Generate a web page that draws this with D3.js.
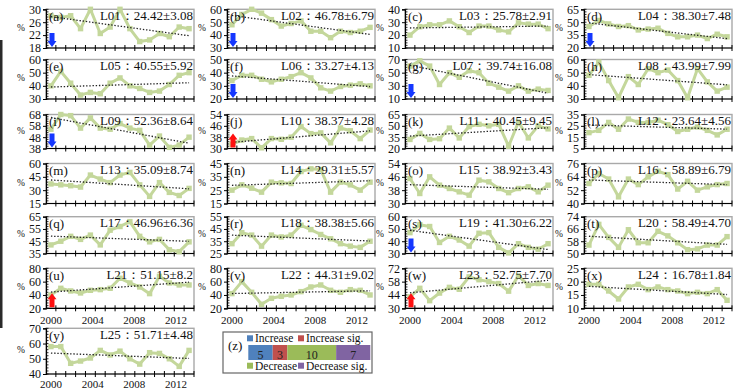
<!DOCTYPE html>
<html><head><meta charset="utf-8">
<script src="https://cdn.jsdelivr.net/npm/d3@7"></script>
<style>
html,body{margin:0;padding:0;background:#fff;}
svg{display:block;font-family:"Liberation Serif","Times New Roman",serif;}
</style></head><body>
<svg id="chart" width="734" height="389" font-family="'Liberation Serif','Times New Roman',serif"></svg>
<script>
// Years on the category axis
const years = [2000,2001,2002,2003,2004,2005,2006,2007,2008,2009,2010,2011,2012,2013,2014];
const yearLabels = [2000,2004,2008,2012];

// Annual percentage series for each site
const L01 = [28, 27.5, 28, 24, 30, 22.5, 24.5, 30, 24, 20, 20.5, 22.5, 21.5, 24.5, 24];
const L02 = [48, 56, 60, 57, 52, 47, 49, 51, 43, 43, 38, 43, 42, 43, 46];
const L03 = [20, 26.5, 28, 28, 31, 26.5, 22, 27, 27, 24, 22.5, 29.5, 28.5, 28.5, 25];
const L04 = [45, 52, 48, 45, 46, 41, 42, 43, 37, 33, 33, 35, 31, 36, 33];
const L05 = [40, 51, 42, 33, 35, 34, 42, 46, 40, 38, 35, 36, 41, 48, 50];
const L06 = [34, 38, 38, 35, 33, 35, 37, 40, 36, 28.5, 26, 29.5, 30.5, 31.5, 30];
const L07 = [60, 68, 60, 32, 50, 43, 53, 50, 34, 28, 22, 30, 22, 25, 23];
const L08 = [48, 58, 44, 31, 47, 41, 53, 50, 52, 44, 31, 53, 43, 36, 39];
const L09 = [55, 68, 67, 56, 65, 56, 55, 60, 56, 54, 41, 49, 39, 41, 48];
const L10 = [33, 36, 37, 30.5, 37, 36.5, 38, 45.5, 40.5, 41, 34, 44.5, 42.5, 37, 43];
const L11 = [32, 40, 32, 33, 47, 34, 49, 52, 50, 52, 23, 55, 34, 50, 46];
const L12 = [19, 21, 28, 22, 31, 28, 28, 30, 26, 20, 22, 24, 21, 17, 22];
const L13 = [37, 36, 35, 33.5, 47, 42.5, 38.5, 47, 50, 36, 23, 38.5, 27.5, 24, 32];
const L14 = [25, 29, 26.5, 23.5, 31, 30.5, 30, 39, 41, 40.5, 23.5, 31, 29, 25, 31];
const L15 = [45, 36, 46, 41, 39, 37, 35, 44, 43, 39, 36.5, 39, 40, 37, 41];
const L16 = [58, 67, 62, 46, 62, 57, 64, 69, 66, 53, 60, 52, 55, 57, 58];
const L17 = [42, 45, 49, 46.5, 50, 42, 54, 57, 61, 49, 44.5, 46.5, 38, 36.5, 44.5];
const L18 = [33, 42, 40, 31, 40, 38.5, 40, 48, 44.5, 40.5, 37, 33, 31, 30, 35];
const L19 = [47, 53.5, 52, 39, 44, 41, 36, 46.5, 47, 35, 30.5, 38, 35, 33.5, 38];
const L20 = [55.5, 69, 60.5, 54, 65.5, 57, 57, 64.5, 61.5, 57, 52.5, 53, 55.5, 55.5, 61];
const L21 = [40, 50, 46, 43, 47, 48, 50, 65, 58, 52, 42, 68, 58, 55, 55];
const L22 = [42, 60, 44, 26, 35, 38, 40, 45, 52, 55, 47, 44, 48, 47, 40];
const L23 = [42, 51, 38, 46, 52, 50, 63, 60, 58, 56, 48, 64, 54, 56, 54];
const L24 = [19, 19, 16.5, 13.5, 18, 19, 17, 18, 17, 16.5, 15.5, 16, 15.5, 17, 13];
const L25 = [58, 58, 47, 48.5, 50.5, 55.5, 52.5, 55, 50, 46.5, 54, 53.5, 50, 45, 55.5];

const series = [L01,L02,L03,L04,L05,L06,L07,L08,L09,L10,L11,L12,L13,L14,L15,L16,L17,L18,L19,L20,L21,L22,L23,L24,L25];
const siteNames = ["L01","L02","L03","L04","L05","L06","L07","L08","L09","L10","L11","L12","L13","L14","L15","L16","L17","L18","L19","L20","L21","L22","L23","L24","L25"];
const panelLetters = ["a","b","c","d","e","f","g","h","i","j","k","l","m","n","o","p","q","r","s","t","u","v","w","x","y"];
const siteStats = ["24.42±3.08","46.78±6.79","25.78±2.91","38.30±7.48","40.55±5.92","33.27±4.13","39.74±16.08","43.99±7.99",
  "52.36±8.64","38.37±4.28","40.45±9.45","23.64±4.56","35.09±8.74","29.31±5.57","38.92±3.43","58.89±6.79",
  "46.96±6.36","38.38±5.66","41.30±6.22","58.49±4.70","51.15±8.2","44.31±9.02","52.75±7.70","16.78±1.84","51.71±4.48"];
const yTicks = [
  [18,22,26,30],[30,40,50,60],[10,20,30,40],[20,35,50,65],
  [30,40,50,60],[20,30,40,50],[10,30,50,70],[30,40,50,60],
  [38,48,58,68],[30,38,46,54],[20,35,50,65],[5,15,25,35],
  [15,30,45,60],[15,25,35,45],[30,38,46,54],[40,52,64,76],
  [35,45,55,65],[25,35,45,55],[30,40,50,60],[50,58,66,74],
  [20,40,60,80],[20,40,60,80],[30,44,58,72],[10,15,20,25],
  [40,50,60,70]];
// Significant trend marker per site: "up", "down" or none
const sigTrend = ["down","down","","down","","down","down","","down","up","","","","","","","","","down","","up","","up","",""];

// Summary of trend classes
const legendLabels = ["Increase","Increase sig.","Decrease","Decrease sig."];
const legendCounts = [5,3,10,7];
const legendColors = ["#4f81bd","#c0504d","#9bbb59","#8064a2"];

const serif = "'Liberation Serif','Times New Roman',serif";
const svg = d3.select("#chart");
const colLeft = [46,227,405,584], plotW = 148;
const rowTop = [9.3,59.5,114.5,163.5,216.7,268.3,328.3];
const rowBottom = [48,99,148.5,203.5,253.5,308.3,374];
const yearLabelOffset = [0,0,0,0,0,15.5,13.5];
const lineColor = "#c4d79b";

// dark scanned edge on the left
svg.append("rect").attr("x",0).attr("y",40).attr("width",2.5).attr("height",288).attr("fill","#2a2a2a");

series.forEach((values,i)=>{
  const col = i%4, row = Math.floor(i/4);
  const left = colLeft[col], right = left+plotW, top = rowTop[row], bottom = rowBottom[row];
  const ticks = yTicks[i];
  const x = d3.scaleBand().domain(years).range([left,right]);
  const cx = d => x(d)+x.bandwidth()/2;
  const y = d3.scaleLinear().domain([ticks[0],ticks[ticks.length-1]]).range([bottom,top]);
  const g = svg.append("g");

  g.append("rect").attr("x",left).attr("y",top).attr("width",plotW).attr("height",bottom-top)
    .attr("fill","none").attr("stroke","#a9a9a9").attr("stroke-width",1.4);

  // minor ticks along the value axis
  const minorStep = (ticks[1]-ticks[0])/5;
  const minor = d3.range(ticks[0], ticks[ticks.length-1]+minorStep/2, minorStep);
  g.selectAll("line.minor").data(minor).join("line").attr("class","minor")
    .attr("x1",left).attr("x2",left+2.5).attr("y1",d=>y(d)).attr("y2",d=>y(d))
    .attr("stroke","#000").attr("stroke-width",0.8);

  const ya = g.append("g").attr("transform",`translate(${left},0)`)
    .call(d3.axisLeft(y).tickValues(ticks).tickSize(3).tickPadding(2).tickFormat(d3.format("d")));
  ya.attr("font-family",serif).attr("font-size",12);
  ya.select(".domain").attr("stroke","#000").attr("stroke-width",1.2);
  ya.selectAll(".tick line").attr("stroke","#000");
  ya.selectAll("text").attr("fill","#111");

  // category axis with crossing ticks at category boundaries
  g.append("line").attr("x1",left).attr("x2",right).attr("y1",bottom).attr("y2",bottom)
    .attr("stroke","#000").attr("stroke-width",1.2);
  const bounds = years.slice(1).map(d=>x(d)).concat([right]);
  g.selectAll("line.xt").data(bounds).join("line").attr("class","xt")
    .attr("x1",d=>d).attr("x2",d=>d).attr("y1",bottom-3).attr("y2",bottom+3)
    .attr("stroke","#000").attr("stroke-width",1);

  if (yearLabelOffset[row]) {
    const yearScale = d3.scaleLinear().domain([2000,2012]).range([left+5,left+130]);
    g.selectAll("text.yr").data(yearLabels).join("text").attr("class","yr")
      .attr("x",d=>yearScale(d)).attr("y",bottom+yearLabelOffset[row]).attr("text-anchor","middle")
      .attr("font-size",11).attr("fill","#111").text(d=>d);
  }

  g.append("text").attr("x",left-25).attr("y",(top+bottom)/2+2).attr("text-anchor","middle")
    .attr("font-size",9.5).attr("fill","#111").text("%");

  // series line and square markers
  g.append("path").datum(values)
    .attr("d",d3.line().x((d,j)=>cx(years[j])).y(d=>y(d)))
    .attr("fill","none").attr("stroke",lineColor).attr("stroke-width",3).attr("stroke-linejoin","round");
  g.selectAll("rect.pt").data(values).join("rect").attr("class","pt")
    .attr("x",(d,j)=>cx(years[j])-2.7).attr("y",d=>y(d)-2.7).attr("width",5.4).attr("height",5.4)
    .attr("fill",lineColor);

  // least-squares linear trend
  const n = values.length;
  const jm = (n-1)/2, vm = d3.mean(values);
  let sxy = 0, sxx = 0;
  values.forEach((v,j)=>{ sxy += (j-jm)*(v-vm); sxx += (j-jm)*(j-jm); });
  const slope = sxy/sxx, icpt = vm - slope*jm;
  g.append("line").attr("x1",cx(years[0])).attr("x2",cx(years[n-1]))
    .attr("y1",y(icpt)).attr("y2",y(icpt+slope*(n-1)))
    .attr("stroke","#222").attr("stroke-width",1.3).attr("stroke-dasharray","1.4,1.8");

  g.append("text").attr("x",left+3).attr("y",top+11.5).attr("font-size",13).attr("fill","#111")
    .text(`(${panelLetters[i]})`);
  g.append("text").attr("x",right-1).attr("y",top+10.5).attr("text-anchor","end")
    .attr("font-size",13).attr("fill","#111").text(`${siteNames[i]}：${siteStats[i]}`);

  // significance arrow
  if (sigTrend[i]) {
    const ax = left+6, tipBottom = bottom-1, tipTop = bottom-15;
    let p;
    if (sigTrend[i] === "down") {
      const hy = tipBottom-6;
      p = `M${ax-2.5},${tipTop}L${ax+2.5},${tipTop}L${ax+2.5},${hy}L${ax+4.5},${hy}L${ax},${tipBottom}L${ax-4.5},${hy}L${ax-2.5},${hy}Z`;
    } else {
      const hy = tipTop+6;
      p = `M${ax-2.5},${tipBottom}L${ax+2.5},${tipBottom}L${ax+2.5},${hy}L${ax+4.5},${hy}L${ax},${tipTop}L${ax-4.5},${hy}L${ax-2.5},${hy}Z`;
    }
    g.append("path").attr("d",p).attr("fill",sigTrend[i]==="down" ? "#1537ff" : "#ff1010");
  }
});

// (z) summary panel
const lg = svg.append("g");
lg.append("rect").attr("x",223).attr("y",332).attr("width",149).attr("height",41)
  .attr("fill","#fff").attr("stroke","#666").attr("stroke-width",1.2);
lg.append("text").attr("x",228).attr("y",350).attr("font-size",13).attr("fill","#111").text("(z)");
const bx = d3.scaleLinear().domain([0,d3.sum(legendCounts)]).range([248.3,370.3]);
const starts = d3.cumsum([0].concat(legendCounts.slice(0,-1)));
lg.selectAll("rect.seg").data(legendCounts).join("rect").attr("class","seg")
  .attr("x",(d,k)=>bx(starts[k])).attr("y",345).attr("width",d=>bx(d)-bx(0)).attr("height",15)
  .attr("fill",(d,k)=>legendColors[k]);
lg.selectAll("text.cnt").data(legendCounts).join("text").attr("class","cnt")
  .attr("x",(d,k)=>bx(starts[k]+d/2)).attr("y",359).attr("text-anchor","middle")
  .attr("font-size",12).attr("fill","#222").text(d=>d);
const itemX = [247,298,247,298], itemY = [338.3,338.3,365.7,365.7];
const order = [0,1,2,3];
lg.selectAll("rect.sw").data(order).join("rect").attr("class","sw")
  .attr("x",k=>itemX[k]).attr("y",k=>itemY[k]-3).attr("width",6).attr("height",6)
  .attr("fill",k=>legendColors[k]);
lg.selectAll("text.lab").data(order).join("text").attr("class","lab")
  .attr("x",k=>itemX[k]+8).attr("y",k=>itemY[k]+4).attr("font-size",11.5).attr("fill","#111")
  .text(k=>legendLabels[k]);
</script>
</body></html>
